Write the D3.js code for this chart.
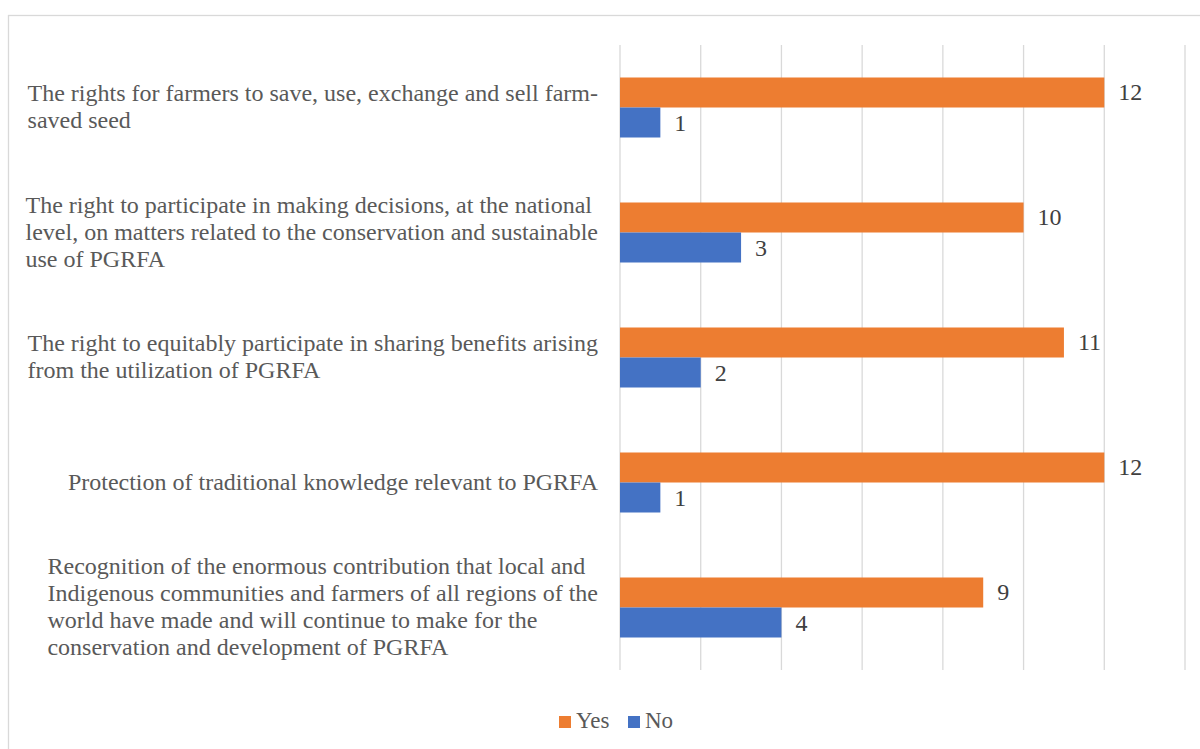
<!DOCTYPE html>
<html>
<head>
<meta charset="utf-8">
<script src="https://cdn.jsdelivr.net/npm/d3@7/dist/d3.min.js"></script>
<style>
  html, body { margin: 0; padding: 0; background: #fff; }
  svg { display: block; }
</style>
</head>
<body>
<script>
// Farmers' rights items (top to bottom), line breaks as laid out on the axis
const categories = [
  "The rights for farmers to save, use, exchange and sell farm-\nsaved seed",
  "The right to participate in making decisions, at the national\nlevel, on matters related to the conservation and sustainable\nuse of PGRFA",
  "The right to equitably participate in sharing benefits arising\nfrom the utilization of PGRFA",
  "Protection of traditional knowledge relevant to PGRFA",
  "Recognition of the enormous contribution that local and\nIndigenous communities and farmers of all regions of the\nworld have made and will continue to make for the\nconservation and development of PGRFA"
];
const seriesNames = ["Yes", "No"];
const yesValues = [12, 10, 11, 12, 9];
const noValues = [1, 3, 2, 1, 4];
const xTicks = [0, 2, 4, 6, 8, 10, 12, 14];

const colors = { Yes: "#ED7D31", No: "#4472C4" };
const FONT = "Liberation Serif";

const W = 1200, H = 749;
const svg = d3.select("body").append("svg")
  .attr("width", W).attr("height", H)
  .attr("font-family", FONT);

// outer chart frame (runs past the right and bottom edges)
svg.append("rect")
  .attr("x", 8.5).attr("y", 15.5)
  .attr("width", 1220).attr("height", 760)
  .attr("fill", "#fff").attr("stroke", "#D9D9D9").attr("stroke-width", 1.3);

const plot = { left: 620, right: 1185, top: 45, bottom: 670 };

const x = d3.scaleLinear().domain([0, 14]).range([plot.left, plot.right]);
const y = d3.scaleBand().domain(d3.range(categories.length))
  .range([plot.top, plot.bottom]).paddingInner(0).paddingOuter(0);
const sub = d3.scaleBand().domain(seriesNames)
  .range([0, y.bandwidth()]).paddingInner(0).paddingOuter(1.0833);

// vertical gridlines
svg.append("g").selectAll("line").data(xTicks).join("line")
  .attr("x1", d => x(d)).attr("x2", d => x(d))
  .attr("y1", plot.top).attr("y2", plot.bottom)
  .attr("stroke", "#D9D9D9").attr("stroke-width", 1.3);

const rows = categories.map((c, i) => ({
  i, label: c,
  values: [{ key: "Yes", v: yesValues[i] }, { key: "No", v: noValues[i] }]
}));

const groups = svg.append("g").selectAll("g").data(rows).join("g")
  .attr("transform", d => `translate(0,${y(d.i)})`);

groups.selectAll("rect").data(d => d.values).join("rect")
  .attr("x", x(0))
  .attr("y", d => sub(d.key))
  .attr("width", d => x(d.v) - x(0))
  .attr("height", sub.bandwidth())
  .attr("fill", d => colors[d.key]);

// value labels at bar ends
groups.selectAll("text.val").data(d => d.values).join("text")
  .attr("class", "val")
  .attr("x", d => x(d.v) + 14)
  .attr("y", d => sub(d.key) + sub.bandwidth() / 2 + 8)
  .attr("font-family", FONT)
  .attr("font-size", 24)
  .attr("fill", "#404040")
  .text(d => d.v);

// category labels: left-aligned lines, block flush against the plot
const lineH = 27;
const labelRight = 598;
groups.each(function(d) {
  const lines = d.label.split("\n");
  const cy = y.bandwidth() / 2;
  const t = d3.select(this).append("text")
    .attr("font-family", FONT)
    .attr("font-size", 24)
    .attr("fill", "#595959");
  const spans = lines.map((ln, k) => t.append("tspan")
    .attr("y", cy + (k - (lines.length - 1) / 2) * lineH + 7)
    .text(ln));
  const maxW = d3.max(spans, s => s.node().getComputedTextLength());
  spans.forEach(s => s.attr("x", labelRight - maxW));
});

// legend
const legend = svg.append("g").attr("transform", "translate(559,716)");
const items = [{ name: "Yes", x: 0 }, { name: "No", x: 69 }];
items.forEach(it => {
  legend.append("rect").attr("x", it.x).attr("y", 0).attr("width", 12).attr("height", 12)
    .attr("fill", colors[it.name]);
  legend.append("text").attr("x", it.x + 17).attr("y", 11.5)
    .attr("font-family", FONT)
    .attr("font-size", 23).attr("fill", "#595959").text(it.name);
});
</script>
</body>
</html>
